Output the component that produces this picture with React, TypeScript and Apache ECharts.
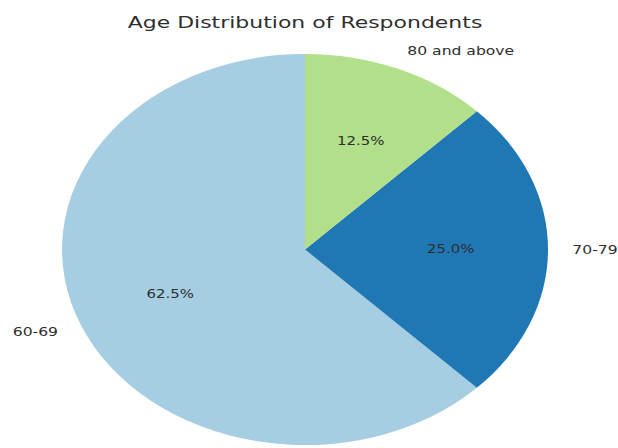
import React, { useEffect, useRef } from "react";
import * as echarts from "echarts";

const chartTitle = "Age Distribution of Respondents";
const categories = ["60-69", "70-79", "80 and above"];
const values = [62.5, 25.0, 12.5];
const colors = ["#a6cee3", "#1f78b4", "#b2df8a"];

export default function App() {
  const ref = useRef<HTMLDivElement>(null);
  useEffect(() => {
    const chart = echarts.init(ref.current!, null, { renderer: "svg" });
    const total = values.reduce((a, b) => a + b, 0);
    const cx = 305;
    const cy = 249.5;
    const rx = 243;
    const ry = 195.5;
    const sx = 1.3;
    const font = "DejaVu Sans";
    const textColor = "#2e2e2e";
    chart.setOption({
      animation: false,
      backgroundColor: "#ffffff",
      graphic: [
        {
          type: "text",
          x: cx,
          y: 22.5,
          scaleX: 1.34,
          style: {
            text: chartTitle,
            fontSize: 16.4,
            fontFamily: font,
            fill: textColor,
            textAlign: "center",
            textVerticalAlign: "middle",
          },
        },
      ],
      series: [
        {
          type: "custom",
          coordinateSystem: "none",
          data: values.map((v, i) => ({ value: v, name: categories[i] })),
          renderItem: (params: any, api: any) => {
            const i = params.dataIndex;
            let before = 0;
            for (let k = 0; k < i; k++) before += values[k];
            const v = api.value(0);
            const a0 = Math.PI / 2 + (2 * Math.PI * before) / total;
            const a1 = a0 + (2 * Math.PI * v) / total;
            const mid = (a0 + a1) / 2;
            const c = Math.cos(mid);
            const s = Math.sin(mid);
            const lx = cx + 1.1 * rx * c;
            const ly = cy - 1.1 * ry * s;
            const px = cx + 0.6 * rx * c;
            const py = cy - 0.6 * ry * s;
            return {
              type: "group",
              children: [
                {
                  type: "group",
                  x: cx,
                  y: cy,
                  scaleY: ry / rx,
                  children: [
                    {
                      type: "sector",
                      shape: { cx: 0, cy: 0, r: rx, r0: 0, startAngle: -a1, endAngle: -a0, clockwise: true },
                      style: { fill: colors[i] },
                    },
                  ],
                },
                {
                  type: "text",
                  x: lx,
                  y: ly,
                  scaleX: sx,
                  style: {
                    text: categories[i],
                    fontSize: 12,
                    fontFamily: font,
                    fill: textColor,
                    textAlign: c > 0 ? "left" : "right",
                    textVerticalAlign: "middle",
                  },
                },
                {
                  type: "text",
                  x: px,
                  y: py,
                  scaleX: sx,
                  style: {
                    text: ((v / total) * 100).toFixed(1) + "%",
                    fontSize: 11.5,
                    fontFamily: font,
                    fill: textColor,
                    textAlign: "center",
                    textVerticalAlign: "middle",
                  },
                },
              ],
            };
          },
        },
      ],
    });
    return () => chart.dispose();
  }, []);
  return (
    <div
      ref={ref}
      style={{ position: "fixed", left: 0, top: 0, width: 618, height: 448 }}
    />
  );
}
